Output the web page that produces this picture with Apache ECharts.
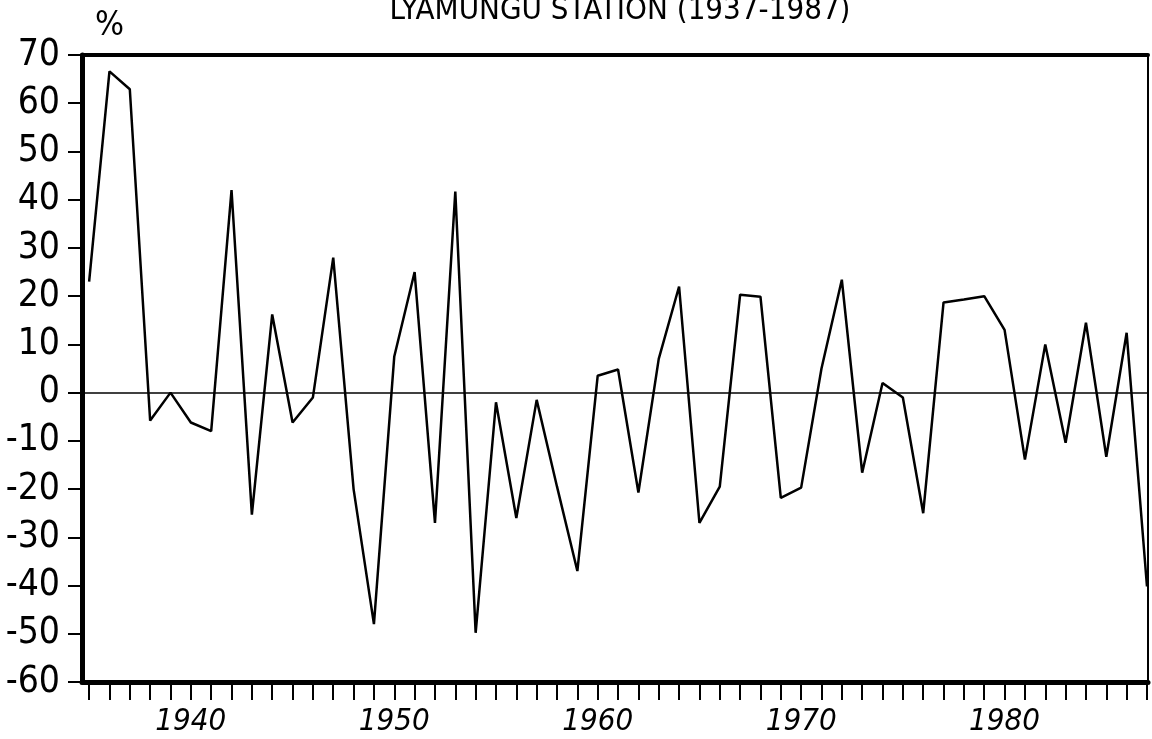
<!DOCTYPE html>
<html>
<head>
<meta charset="utf-8">
<title>Lyamungu Station</title>
<script src="https://cdn.jsdelivr.net/npm/echarts@6/dist/echarts.min.js"></script>
<style>
  html, body { margin: 0; padding: 0; background: #fff; }
  #chart { width: 1152px; height: 739px; }
</style>
</head>
<body>
<div id="chart"></div>
<script>
// Rainfall anomaly (%) per year
const years = [
  1935, 1936, 1937, 1938, 1939, 1940, 1941, 1942, 1943, 1944,
  1945, 1946, 1947, 1948, 1949, 1950, 1951, 1952, 1953, 1954,
  1955, 1956, 1957, 1958, 1959, 1960, 1961, 1962, 1963, 1964,
  1965, 1966, 1967, 1968, 1969, 1970, 1971, 1972, 1973, 1974,
  1975, 1976, 1977, 1978, 1979, 1980, 1981, 1982, 1983, 1984,
  1985, 1986, 1987
]
const anomaly = [
  23, 66.6, 62.9, -5.8, 0, -6.2, -8, 42, -25.3, 16.2,
  -6.2, -1, 28, -20, -48, 7.5, 25, -27, 41.7, -49.8,
  -2, -26, -1.5, -19.5, -37, 3.5, 4.8, -20.7, 7, 22,
  -27, -19.5, 20.3, 19.9, -21.8, -19.7, 5, 23.4, -16.6, 2,
  -1, -25, 18.7, 19.3, 20, 13, -13.9, 10, -10.4, 14.5,
  -13.3, 12.4, -40.2
]
const decadeLabels = [1940, 1950, 1960, 1970, 1980]
const titleText = 'LYAMUNGU STATION (1937-1987)'
const unitText = '%'

const font = "'Liberation Sans Narrow', 'DejaVu Sans Condensed', 'Roboto Condensed', 'Liberation Sans', sans-serif"

const chart = echarts.init(document.getElementById('chart'), null, { renderer: 'canvas' })

chart.setOption({
  backgroundColor: '#fff',
  animation: false,
  title: [
    {
      text: titleText,
      left: 615,
      top: -10,
      textAlign: 'center',
      textStyle: { fontFamily: font, fontSize: 31, fontWeight: 'normal', color: '#000' }
    },
    {
      text: unitText,
      left: 90,
      top: 4,
      textStyle: { fontFamily: font, fontSize: 34, fontWeight: 'normal', color: '#000' }
    }
  ],
  grid: {
    left: 82,
    right: 4,
    top: 55,
    bottom: 57,
    show: true,
    borderColor: '#000',
    borderWidth: 2,
    backgroundColor: 'transparent'
  },
  xAxis: [
    {
      type: 'value',
      min: 1934.65,
      max: 1987.05,
      splitLine: { show: false },
      axisLine: { show: true, onZero: false, lineStyle: { color: '#000', width: 5 } },
      axisTick: {
        show: true,
        inside: false,
        length: 18,
        lineStyle: { color: '#000', width: 2 },
        customValues: years
      },
      axisLabel: {
        customValues: decadeLabels,
        formatter: v => String(v),
        margin: 24,
        fontFamily: font,
        fontStyle: 'italic',
        fontSize: 31,
        color: '#000'
      }
    },
    {
      type: 'value',
      position: 'top',
      min: 1934.65,
      max: 1987.05,
      splitLine: { show: false },
      axisLine: { show: true, onZero: false, lineStyle: { color: '#000', width: 4 } },
      axisTick: { show: false },
      axisLabel: { show: false }
    }
  ],
  yAxis: {
    type: 'value',
    min: -60,
    max: 70,
    interval: 10,
    splitLine: { show: false },
    axisLine: { show: true, onZero: false, lineStyle: { color: '#000', width: 5 } },
    axisTick: { show: true, inside: false, length: 14, lineStyle: { color: '#000', width: 2 } },
    axisLabel: {
      margin: 22,
      fontFamily: font,
      fontSize: 37,
      color: '#000'
    }
  },
  series: [{
    type: 'line',
    data: years.map((y, i) => [y, anomaly[i]]),
    symbol: 'none',
    lineStyle: { color: '#000', width: 2.5 },
    markLine: {
      silent: true,
      symbol: 'none',
      label: { show: false },
      lineStyle: { color: '#000', width: 1.5, type: 'solid' },
      data: [{ yAxis: 0 }]
    }
  }]
})
</script>
</body>
</html>
